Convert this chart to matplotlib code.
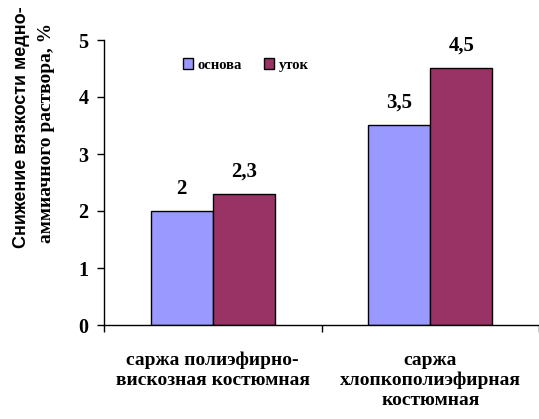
import matplotlib
matplotlib.use("Agg")
import matplotlib.pyplot as plt
import numpy as np

categories = ["саржа полиэфирно-\nвискозная костюмная", "саржа\nхлопкополиэфирная\nкостюмная"]
series_names = ["основа", "уток"]
osnova = [2, 3.5]
utok = [2.3, 4.5]
labels_osnova = ["2", "3,5"]
labels_utok = ["2,3", "4,5"]
colors = ["#9999FF", "#993366"]
ylabel_lines = ["Снижение вязкости медно-", "аммиачного раствора, %"]

fig = plt.figure(figsize=(5.39, 4.19), dpi=100)
ax = fig.add_axes([104/539, 1-325/419, (539-104)/539, (325-40)/419])

x = np.arange(len(categories))
w = 0.285
b1 = ax.bar(x - w/2, osnova, w, color=colors[0], edgecolor="black", linewidth=1, label=series_names[0])
b2 = ax.bar(x + w/2, utok, w, color=colors[1], edgecolor="black", linewidth=1, label=series_names[1])

for bars, labs in ((b1, labels_osnova), (b2, labels_utok)):
    for r, t in zip(bars, labs):
        ax.annotate(t, (r.get_x() + r.get_width()/2, r.get_height()), xytext=(0, 9),
                    textcoords="offset points", ha="center", va="bottom",
                    fontsize=15, family="Liberation Serif", fontweight="bold")

ax.set_ylim(0, 5)
ax.set_xlim(-0.5, -0.5 + (539-104)/224)
ax.set_yticks(range(6))
ax.set_yticklabels([str(i) for i in range(6)], family="Liberation Serif", fontweight="bold", fontsize=14.5)
ax.set_xticks([-0.5, 0.5, 1.5])
ax.set_xticklabels([])
ax.tick_params(axis="both", direction="out", length=5, width=1, color="black")
ax.tick_params(axis="y", pad=6)
for s in ("top", "right"):
    ax.spines[s].set_visible(False)
for s in ("left", "bottom"):
    ax.spines[s].set_linewidth(1)

for i, c in enumerate(categories):
    ax.text(i, -0.47, c, ha="center", va="top", fontsize=14, family="Liberation Serif",
            fontweight="bold", linespacing=1.2, transform=ax.transData, clip_on=False)

fig.text(22/539, 1-127/419, ylabel_lines[0], rotation=90, ha="center", va="center",
         fontsize=13, family="Liberation Sans", fontweight="bold")
fig.text(47/539, 1-133/419, ylabel_lines[1], rotation=90, ha="center", va="center",
         fontsize=14, family="Liberation Serif", fontweight="bold")

leg = fig.legend(handles=[b1, b2], labels=series_names, loc="center left",
                 bbox_to_anchor=(170/539, 1-65/419), ncol=2, frameon=False,
                 prop={"family": "Liberation Serif", "weight": "bold", "size": 10.5},
                 handlelength=0.7, handleheight=0.7, handletextpad=0.3, columnspacing=1.5)

fig.savefig("out.png", dpi=100)
